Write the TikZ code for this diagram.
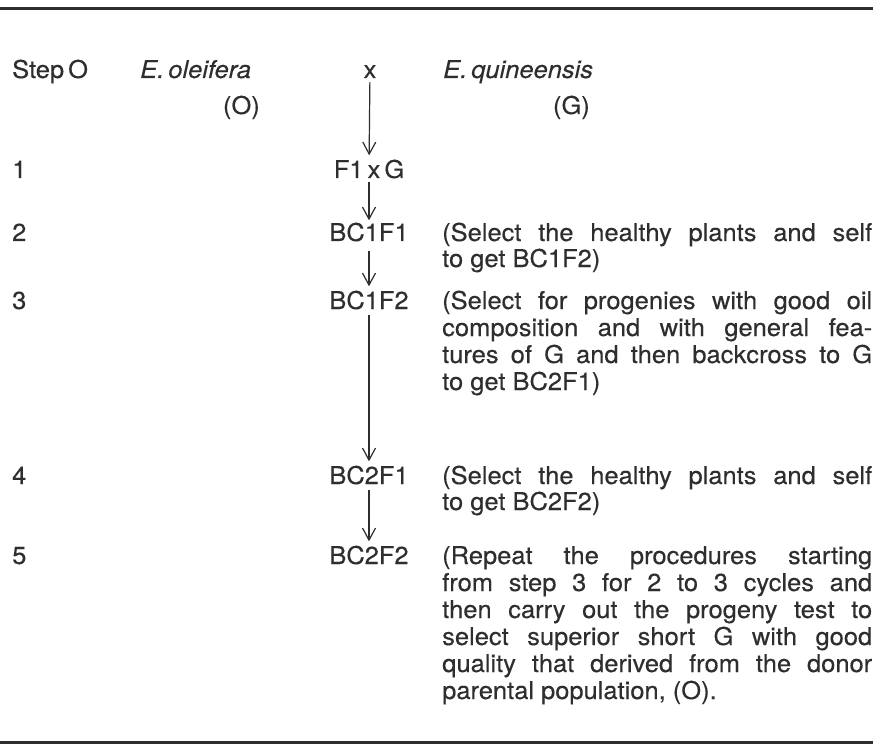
\documentclass[tikz,border=0pt]{standalone}
\usepackage{fontspec}
\setmainfont{TeX Gyre Heros}[FakeStretch=1.04,FakeBold=0.3]
\usetikzlibrary{arrows.meta}
\definecolor{ink}{HTML}{2E2E2E}
\newlength\colw
\setlength\colw{430pt}
\newcommand\jl[1]{\makebox[\colw][s]{#1}}
\tikzset{
  txt/.style={inner sep=0pt, text=ink, font=\fontsize{24.5}{27}\selectfont},
  lt/.style={txt, anchor=base west},
  ct/.style={txt, anchor=base, text height=17.5pt, text depth=0pt},
  rt/.style={txt, anchor=base east},
  arr/.style={draw=ink, line width=1.2pt, -{Straight Barb[length=12pt,width=13pt,line width=1.2pt]}, shorten <=6pt, shorten >=5pt},
  rule/.style={draw=ink, line width=3pt}
}
\begin{document}
\begin{tikzpicture}[x=1pt,y=-1pt]
\useasboundingbox (0,0) rectangle (873,754);
\fill[white] (0,0) rectangle (873,754);
% rules
\coordinate (tl) at (0,9);
\coordinate (tr) at (873,9);
\coordinate (bl) at (0,742);
\coordinate (br) at (873,742);
\draw[rule] (tl) -- (tr);
\draw[rule] (bl) -- (br);
% header
\node[lt] (step) at (12,78) {Step\,O};
\node[lt] (eo) at (140,78) {\itshape E.\,oleifera};
\node[rt] (o) at (260,114) {(O)};
\node[ct] (hx) at (370,78) {x};
\node[lt] (eg) at (443,78) {\itshape E.\,quineensis};
\node[rt] (g) at (590,114) {(G)};
% step numbers
\node[lt] (n1) at (12,178) {1};
\node[lt] (n2) at (12,241) {2};
\node[lt] (n3) at (12,309) {3};
\node[lt] (n4) at (12,484) {4};
\node[lt] (n5) at (12,564) {5};
% centre column
\node[ct] (f1) at (369,178) {F1\,x\,G};
\node[ct] (bc11) at (369,241) {BC1F1};
\node[ct] (bc12) at (369,309) {BC1F2};
\node[ct] (bc21) at (369,484) {BC2F1};
\node[ct] (bc22) at (369,564) {BC2F2};
% arrows
\draw[arr, shorten <=4pt] (hx) -- (f1);
\draw[arr, shorten <=4pt, shorten >=3pt] (f1) -- (bc11);
\draw[arr, shorten <=10pt] (bc11) -- (bc12);
\draw[arr] (bc12) -- (bc21);
\draw[arr] (bc21) -- (bc22);
% paragraph step 2
\node[lt] (p2a) at (442,241) {\jl{(Select the healthy plants and self}};
\node[lt] (p2b) at (442,267) {to get BC1F2)};
% paragraph step 3
\node[lt] (p3a) at (442,309) {\jl{(Select for progenies with good oil}};
\node[lt] (p3b) at (442,336) {\jl{composition and with general fea-}};
\node[lt] (p3c) at (442,363) {\jl{tures of G and then backcross to G}};
\node[lt] (p3d) at (442,390) {to get BC2F1)};
% paragraph step 4
\node[lt] (p4a) at (442,484) {\jl{(Select the healthy plants and self}};
\node[lt] (p4b) at (442,510) {to get BC2F2)};
% paragraph step 5
\node[lt] (p5a) at (442,564) {\jl{(Repeat the procedures starting}};
\node[lt] (p5b) at (442,591) {\jl{from step 3 for 2 to 3 cycles and}};
\node[lt] (p5c) at (442,618) {\jl{then carry out the progeny test to}};
\node[lt] (p5d) at (442,645) {\jl{select superior short G with good}};
\node[lt] (p5e) at (442,672) {\jl{quality that derived from the donor}};
\node[lt] (p5f) at (442,699) {parental population, (O).};
\end{tikzpicture}
\end{document}
